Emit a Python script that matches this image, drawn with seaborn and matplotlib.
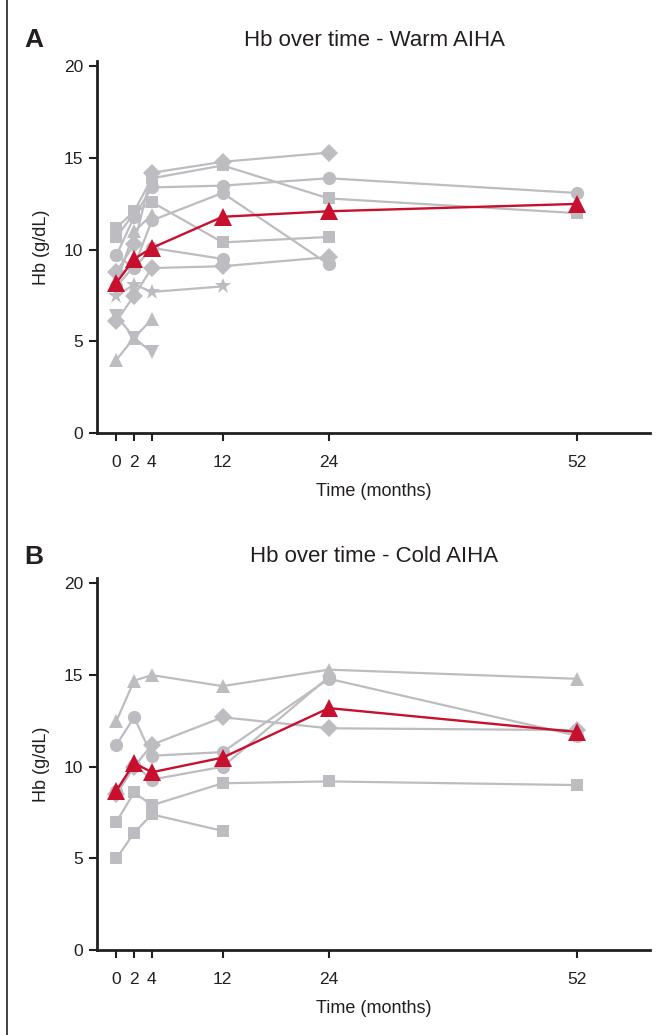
import numpy as np
import pandas as pd
import matplotlib
matplotlib.use("Agg")
import matplotlib.pyplot as plt
from matplotlib.lines import Line2D
import seaborn as sns

sns.set_style("ticks")
plt.rcParams['font.family'] = ['Liberation Sans', 'DejaVu Sans']

# ---- data ----
times = [0, 2, 4, 12, 24, 52]
xtick_labels = ["0", "2", "4", "12", "24", "52"]
yticks = [0, 5, 10, 15, 20]

nan = np.nan
warm_markers = ["D", "s", "o", "s", "o", "o", "D", "*", "^", "v", "^"]
warm_values = [
    [8.8, 10.3, 14.2, 14.8, 15.3, nan],
    [11.2, 12.1, 13.9, 14.6, 12.8, 12.0],
    [9.7, 11.8, 13.4, 13.5, 13.9, 13.1],
    [10.7, 12.0, 12.6, 10.4, 10.7, nan],
    [8.0, 9.1, 11.6, 13.1, 9.2, nan],
    [9.7, 9.0, 10.1, 9.5, nan, nan],
    [6.1, 7.5, 9.0, 9.1, 9.6, nan],
    [7.5, 8.1, 7.7, 8.0, nan, nan],
    [4.0, 5.2, 6.2, nan, nan, nan],
    [6.4, 5.2, 4.4, nan, nan, nan],
    [8.2, 11.0, 11.9, nan, nan, nan],
]
warm_mean = [8.2, 9.5, 10.1, 11.8, 12.1, 12.5]

cold_markers = ["^", "o", "D", "o", "s", "s"]
cold_values = [
    [12.5, 14.7, 15.0, 14.4, 15.3, 14.8],
    [11.2, 12.7, 10.6, 10.8, 14.8, 11.7],
    [8.5, 10.0, 11.2, 12.7, 12.1, 12.0],
    [8.7, 10.1, 9.3, 10.0, 14.9, nan],
    [7.0, 8.6, 7.9, 9.1, 9.2, 9.0],
    [5.0, 6.4, 7.4, 6.5, nan, nan],
]
cold_mean = [8.7, 10.2, 9.7, 10.5, 13.2, 11.9]

panels = [
    ("A", "Hb over time - Warm AIHA", warm_markers, warm_values, warm_mean),
    ("B", "Hb over time - Cold AIHA", cold_markers, cold_values, cold_mean),
]

GRAY = "#bdbdc1"
RED = "#c8102e"
DARK = "#231f20"

fig = plt.figure(figsize=(6.61, 10.35), dpi=100)
W, H = 661, 1035
axes_px = [(97, 650, 61, 433), (97, 650, 578, 950)]  # left, right, top, bottom

msize = {"D": 9, "s": 9, "o": 9.5, "*": 12, "^": 9.5, "v": 9.5}

for (letter, title, markers, values, mean), (l, r, t, b) in zip(panels, axes_px):
    ax = fig.add_axes([l / W, 1 - b / H, (r - l) / W, (b - t) / H])
    for mk, vals in zip(markers, values):
        df = pd.DataFrame({"t": times, "hb": vals}).dropna()
        sns.lineplot(data=df, x="t", y="hb", ax=ax, color=GRAY, marker=mk,
                     markersize=msize[mk], markeredgewidth=0, linewidth=1.6,
                     zorder=2, sort=False)
    dfm = pd.DataFrame({"t": times, "hb": mean})
    sns.lineplot(data=dfm, x="t", y="hb", ax=ax, color=RED, marker="^",
                 markersize=13, markeredgewidth=0, linewidth=1.7, zorder=3,
                 sort=False)

    ax.set_xlim(-2.2, 60.3)
    ax.set_ylim(0, 20.3)
    ax.set_xticks(times)
    ax.set_xticklabels(xtick_labels)
    ax.set_yticks(yticks)
    sns.despine(ax=ax)
    for s in ["left", "bottom"]:
        ax.spines[s].set_linewidth(2)
        ax.spines[s].set_color(DARK)
    ax.tick_params(axis="both", direction="out", length=6, width=1.5,
                   color=DARK, labelsize=12.5, labelcolor=DARK, pad=4)
    ax.tick_params(axis="x", pad=10)
    ax.set_xlabel("Time (months)", fontsize=13, color=DARK, labelpad=9)
    ax.set_ylabel("Hb (g/dL)", fontsize=13, color=DARK, labelpad=10)
    fig.text(374 / W, 1 - (t - 21) / H, title, ha="center", va="center",
             fontsize=16, color=DARK)
    fig.text(24 / W, 1 - (t - 21) / H, letter, ha="left", va="center",
             fontsize=19, fontweight="bold", color=DARK)

fig.add_artist(Line2D([7 / W, 7 / W], [0, 1], transform=fig.transFigure,
                      color=DARK, linewidth=1.2))

fig.savefig("out.png", dpi=100)
